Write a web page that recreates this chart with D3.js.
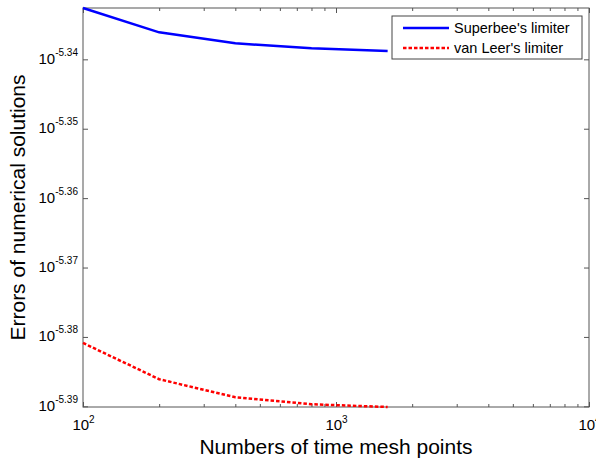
<!DOCTYPE html>
<html>
<head>
<meta charset="utf-8">
<script src="https://cdn.jsdelivr.net/npm/d3@7"></script>
<style>
  body { margin: 0; background: #fff; }
  text { font-family: Arial, "Liberation Sans", sans-serif; }
</style>
</head>
<body>
<div id="chart"></div>
<script>
// number of time mesh points (x) and errors of the two schemes (y)
const meshPoints   = [100, 200, 400, 800, 1600];
const superbeeErr  = [4.6494e-6, 4.6120e-6, 4.5952e-6, 4.5877e-6, 4.5835e-6];
const vanLeerErr   = [4.1604e-6, 4.1106e-6, 4.0861e-6, 4.0766e-6, 4.0729e-6];
const seriesNames  = ["Superbee's limiter", "van Leer's limiter"];
const xTickExps    = [2, 3, 4];
const yTickExps    = ["-5.34", "-5.35", "-5.36", "-5.37", "-5.38", "-5.39"];

const width = 596, height = 460;
const margin = {top: 8, right: 7, bottom: 53, left: 83};
const innerW = width - margin.left - margin.right;
const innerH = height - margin.top - margin.bottom;

const svg = d3.select("#chart").append("svg")
    .attr("width", width)
    .attr("height", height);

const g = svg.append("g")
    .attr("transform", `translate(${margin.left},${margin.top})`);

const allErr = superbeeErr.concat(vanLeerErr);
const x = d3.scaleLog().domain([100, 10000]).range([0, innerW]);
const y = d3.scaleLog().domain(d3.extent(allErr)).range([innerH, 0]);

const xMajor = xTickExps.map(e => Math.pow(10, e));
const xMinor = [];
xMajor.slice(0, -1).forEach(v => { for (let k = 2; k < 10; k++) xMinor.push(v * k); });
const yMajor = yTickExps.map(e => Math.pow(10, +e));

const axisColor = "#555";

function styleAxis(sel) {
    sel.select(".domain").remove();
    sel.selectAll(".tick line").attr("stroke", axisColor);
}

// bottom / top axes (ticks pointing inward)
const xBottom = g.append("g").attr("transform", `translate(0,${innerH})`)
    .call(d3.axisBottom(x).tickValues(xMajor).tickSize(-5))
    .call(styleAxis);
g.append("g").attr("transform", `translate(0,${innerH})`)
    .call(d3.axisBottom(x).tickValues(xMinor).tickSize(-3).tickFormat(""))
    .call(styleAxis);
g.append("g")
    .call(d3.axisTop(x).tickValues(xMajor).tickSize(-5).tickFormat(""))
    .call(styleAxis);
g.append("g")
    .call(d3.axisTop(x).tickValues(xMinor).tickSize(-3).tickFormat(""))
    .call(styleAxis);

xBottom.selectAll(".tick text").each(function(d, i) {
    const t = d3.select(this).text("")
        .attr("y", 23).attr("dy", 0)
        .attr("fill", "#000").attr("font-size", 15)
        .attr("text-anchor", "middle");
    t.append("tspan").text("10");
    t.append("tspan").attr("dy", -7).attr("font-size", 10).text(xTickExps[i]);
});

// left / right axes
const yLeft = g.append("g")
    .call(d3.axisLeft(y).tickValues(yMajor).tickSize(-5))
    .call(styleAxis);
g.append("g").attr("transform", `translate(${innerW},0)`)
    .call(d3.axisRight(y).tickValues(yMajor).tickSize(-5).tickFormat(""))
    .call(styleAxis);

yLeft.selectAll(".tick text").each(function(d, i) {
    const t = d3.select(this).text("")
        .attr("x", -5).attr("dy", 4)
        .attr("fill", "#000").attr("font-size", 15)
        .attr("text-anchor", "end");
    t.append("tspan").text("10");
    t.append("tspan").attr("dy", -8).attr("font-size", 10).text(yTickExps[i]);
});

// box
g.append("rect")
    .attr("width", innerW).attr("height", innerH)
    .attr("fill", "none").attr("stroke", axisColor).attr("stroke-width", 1);

// series
const line = d3.line().x((d, i) => x(meshPoints[i])).y(d => y(d));
svg.append("clipPath").attr("id", "plotclip")
    .append("rect").attr("x", -2).attr("y", -2).attr("width", innerW + 4).attr("height", innerH + 4);

const plot = g.append("g").attr("clip-path", "url(#plotclip)");
plot.append("path").datum(superbeeErr)
    .attr("d", line).attr("fill", "none")
    .attr("stroke", "#0000ff").attr("stroke-width", 2.5);
plot.append("path").datum(vanLeerErr)
    .attr("d", line).attr("fill", "none")
    .attr("stroke", "#ff0000").attr("stroke-width", 2.5)
    .attr("stroke-dasharray", "3.5,2");

// axis labels
svg.append("text")
    .attr("x", margin.left + innerW / 2).attr("y", 454)
    .attr("text-anchor", "middle").attr("font-size", 21).attr("fill", "#000")
    .text("Numbers of time mesh points");
svg.append("text")
    .attr("transform", `translate(25,${margin.top + innerH / 2}) rotate(-90)`)
    .attr("text-anchor", "middle").attr("font-size", 21).attr("fill", "#000")
    .text("Errors of numerical solutions");

// legend
const legend = svg.append("g").attr("transform", "translate(392,16)");
legend.append("rect")
    .attr("width", 190).attr("height", 43)
    .attr("fill", "#fff").attr("stroke", "#444").attr("stroke-width", 1);
const legendStyles = [
    {color: "#0000ff", dash: null},
    {color: "#ff0000", dash: "3.5,2"}
];
seriesNames.forEach((name, i) => {
    const row = legend.append("g").attr("transform", `translate(0,${12 + i * 20})`);
    row.append("line")
        .attr("x1", 11).attr("x2", 57)
        .attr("stroke", legendStyles[i].color).attr("stroke-width", 2.5)
        .attr("stroke-dasharray", legendStyles[i].dash);
    row.append("text")
        .attr("x", 62).attr("y", 5)
        .attr("font-size", 14.5).attr("fill", "#000")
        .text(name);
});
</script>
</body>
</html>
